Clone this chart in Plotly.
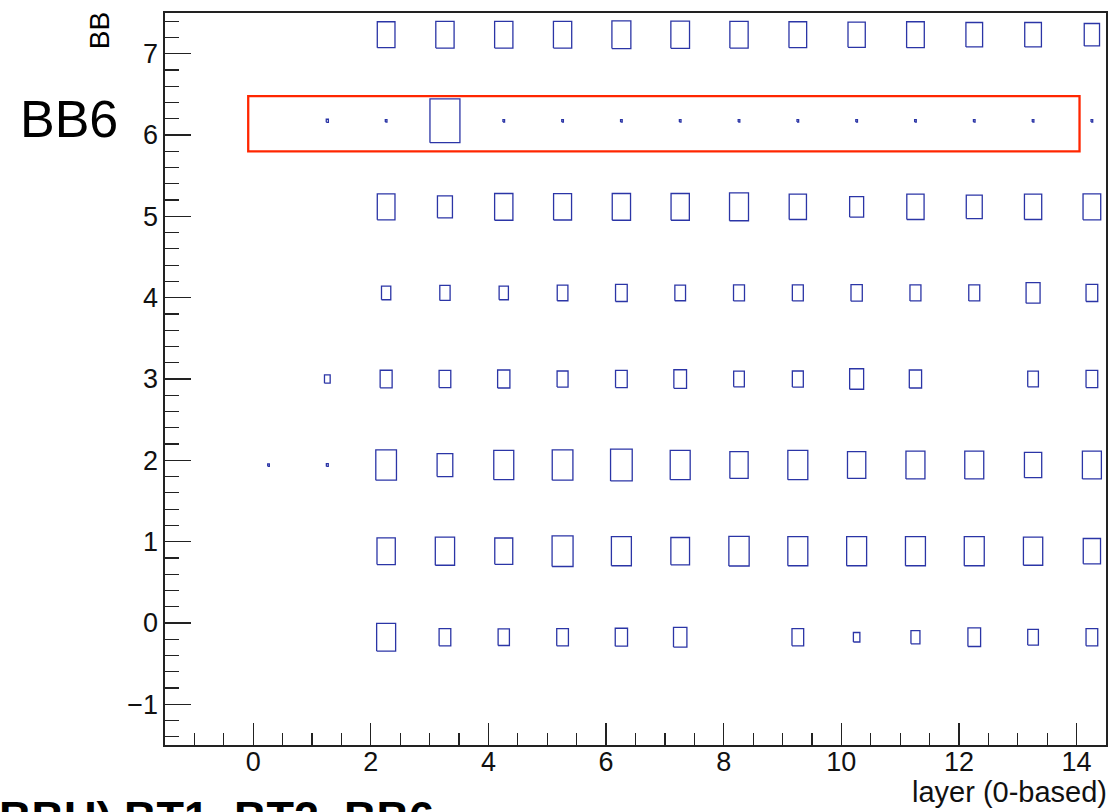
import math
import plotly.graph_objects as go

# ---------------- data (box-histogram contents, BB vs layer) ----------------
layers = list(range(15))          # layer index 0..14
bb_rows = list(range(8))          # BB index 0..7
N = None
content_bb0 = [N, N, 40.1, 15.2, 14.2, 15.2, 16.8, 20.0, N, 15.2, 4.7, 9.0, 17.9, 12.7, 15.2]
content_bb1 = [N, N, 37.2, 41.4, 36.0, 49.0, 44.4, 38.8, 45.8, 44.4, 44.4, 44.4, 44.4, 41.4, 33.2]
content_bb2 = [0.3, 0.4, 47.6, 27.4, 44.4, 47.6, 52.3, 44.4, 37.2, 44.4, 37.2, 40.1, 40.1, 33.2, 40.1]
content_bb3 = [N, 3.6, 16.0, 15.2, 16.8, 13.4, 15.2, 17.9, 12.7, 13.4, 21.8, 16.8, N, 12.7, 15.2]
content_bb4 = [N, N, 9.6, 11.8, 9.6, 12.7, 15.2, 12.7, 13.4, 13.4, 14.2, 13.4, 13.4, 21.8, 15.2]
content_bb5 = [N, N, 34.8, 25.0, 37.2, 36.0, 37.2, 37.2, 40.1, 33.2, 21.8, 33.2, 28.4, 33.2, 34.8]
content_bb6 = [N, 0.5, 0.3, 100.0, 0.3, 0.3, 0.3, 0.3, 0.3, 0.3, 0.3, 0.3, 0.3, 0.3, 0.3]
content_bb7 = [N, N, 34.8, 37.2, 37.2, 37.2, 40.0, 38.8, 37.2, 34.8, 33.2, 34.8, 31.0, 31.0, 26.0]
contents = [content_bb0, content_bb1, content_bb2, content_bb3,
            content_bb4, content_bb5, content_bb6, content_bb7]

x_ticks = [0, 2, 4, 6, 8, 10, 12, 14]
y_ticks = [-1, 0, 1, 2, 3, 4, 5, 6, 7]
x_title = "layer (0-based)"
y_title = "BB"
highlight_label = "BB6"
footer_text = "BBU) BT1, BT2, BB6"

# ---------------- histogram binning / box scaling ----------------
X_BIN_W = 1.0
X_BIN_OFFSET = 0.26
Y_BIN_W = 1.0583
Y_BIN_FIRST = -0.175
Z_MAX = 385.0

xs, ys = [], []
for bb, row in zip(bb_rows, contents):
    for layer, v in zip(layers, row):
        if v is None:
            continue
        cx = layer + X_BIN_OFFSET
        cy = Y_BIN_FIRST + bb * Y_BIN_W
        r = math.sqrt(v / Z_MAX)
        hx = 0.5 * X_BIN_W * r
        hy = 0.5 * Y_BIN_W * r
        xs += [cx - hx, cx + hx, cx + hx, cx - hx, cx - hx, None]
        ys += [cy - hy, cy - hy, cy + hy, cy + hy, cy - hy, None]

BOX_COLOR = "#2b35a6"
FONT = "Liberation Sans, Arial, Helvetica, sans-serif"

fig = go.Figure()
fig.add_trace(go.Scatter(x=xs, y=ys, mode="lines",
                         line=dict(color=BOX_COLOR, width=1.3),
                         hoverinfo="skip", showlegend=False))

# red highlight rectangle around BB6 row
fig.add_shape(type="rect", xref="x", yref="y",
              x0=-0.085, x1=14.05, y0=5.798, y1=6.479,
              line=dict(color="rgb(255,38,0)", width=2.3))

# body margin is removed by post_script below, so page px == figure px
W, H = 1115, 812
P_LEFT, P_RIGHT, P_TOP, P_BOTTOM = 165, 1108, 13, 745
ML, MR, MT, MB = P_LEFT, W - P_RIGHT, P_TOP, H - P_BOTTOM
PW, PH = P_RIGHT - P_LEFT, P_BOTTOM - P_TOP

def px(xp):
    return (xp - P_LEFT) / PW

def py(yp):
    return (P_BOTTOM - yp) / PH

fig.add_annotation(text=highlight_label, xref="paper", yref="paper",
                   x=px(18), y=py(119), xanchor="left", yanchor="middle",
                   showarrow=False, font=dict(family=FONT, size=52, color="black"))
fig.add_annotation(text=y_title, xref="paper", yref="paper",
                   x=px(99), y=py(31), xanchor="center", yanchor="middle",
                   textangle=-90, showarrow=False,
                   font=dict(family=FONT, size=28, color="black"))
fig.add_annotation(text=x_title, xref="paper", yref="paper",
                   x=px(1111), y=py(792), xanchor="right", yanchor="middle",
                   showarrow=False, font=dict(family=FONT, size=29, color="#111111"))
fig.add_annotation(text="<b>" + footer_text + "</b>", xref="paper", yref="paper",
                   x=px(-3), y=py(790), xanchor="left", yanchor="top",
                   showarrow=False, font=dict(family=FONT, size=45, color="black"))

axis_common = dict(showgrid=False, zeroline=False, showline=True, mirror=True,
                   linecolor="#222222", linewidth=1.6, ticks="inside",
                   tickcolor="#222222", tickwidth=1.2,
                   tickfont=dict(family=FONT, size=27, color="#111111"))

fig.update_xaxes(range=[-1.5, 14.5], tickmode="array", tickvals=x_ticks,
                 ticklen=22, ticklabelstandoff=-8,
                 minor=dict(ticks="inside", dtick=0.5, ticklen=12,
                            tickcolor="#222222", tickwidth=1.2, showgrid=False),
                 **axis_common)
fig.update_yaxes(range=[-1.5, 7.5], tickmode="array", tickvals=y_ticks,
                 ticklen=26,
                 minor=dict(ticks="inside", dtick=0.2, ticklen=14,
                            tickcolor="#222222", tickwidth=1.2, showgrid=False),
                 **axis_common)

fig.update_layout(width=W, height=H,
                  margin=dict(l=ML, r=MR, t=MT, b=MB, pad=0),
                  paper_bgcolor="white", plot_bgcolor="white",
                  showlegend=False)

fig.write_html("out.html",
               config={"displayModeBar": False, "staticPlot": True},
               post_script="document.body.style.margin='0';"
                           "document.body.style.overflow='hidden';")
